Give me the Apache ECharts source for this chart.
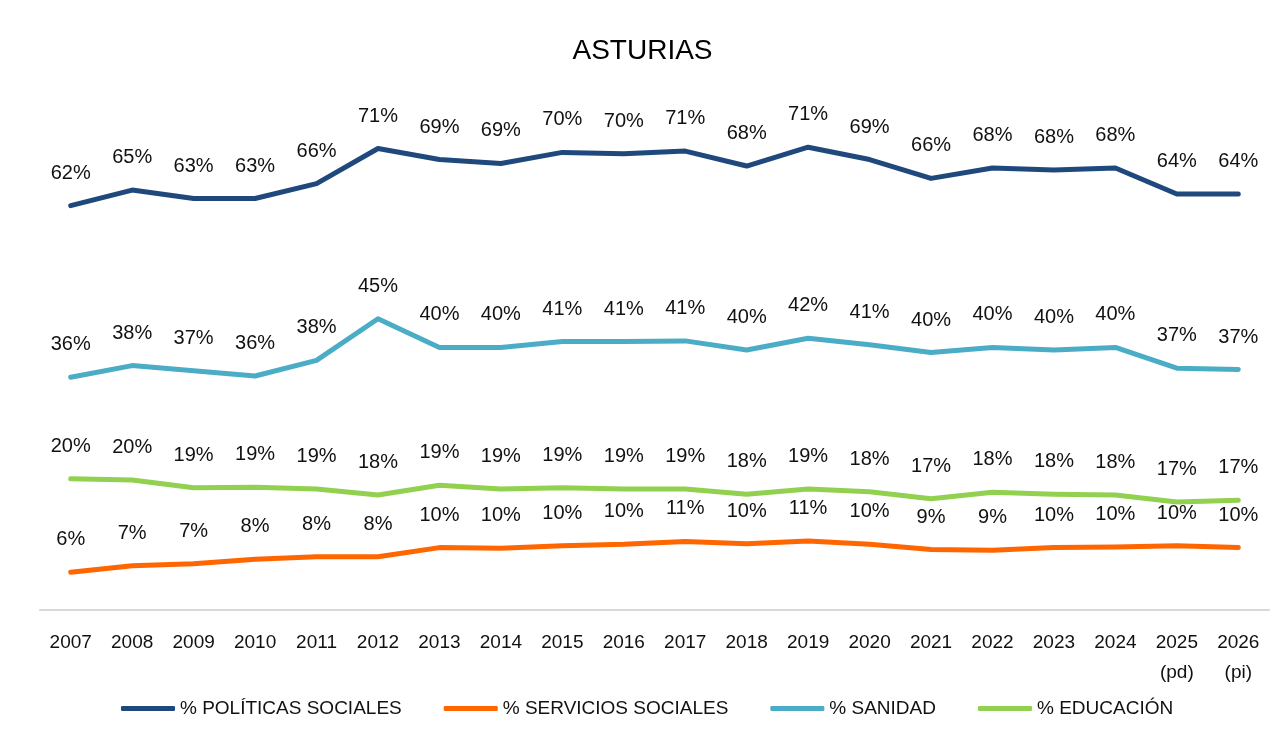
<!DOCTYPE html>
<html lang="es">
<head>
	<meta charset="utf-8" />
	<title>ASTURIAS</title>
	<style>
		html, body { margin: 0; padding: 0; background: #fff; }
		#chart { width: 1285px; height: 733px; }
	</style>
</head>
<body>
	<div id="chart"></div>
	<script type="text/javascript" src="https://cdn.jsdelivr.net/npm/echarts@6/dist/echarts.min.js"></script>
	<script type="text/javascript">
		// años (2025 prorrogado, 2026 inicial)
		const years = ["2007", "2008", "2009", "2010", "2011", "2012", "2013", "2014", "2015", "2016",
			"2017", "2018", "2019", "2020", "2021", "2022", "2023", "2024", "2025\n(pd)", "2026\n(pi)"];

		// % sobre el gasto total
		const politicasSociales = [62.2, 64.6, 63.3, 63.3, 65.6, 71.0, 69.3, 68.7, 70.4, 70.2,
			70.6, 68.3, 71.2, 69.3, 66.4, 68.0, 67.7, 68.0, 64.0, 64.0];
		const serviciosSociales = [5.8, 6.8, 7.1, 7.8, 8.2, 8.2, 9.6, 9.5, 9.9, 10.1,
			10.55, 10.2, 10.6, 10.1, 9.3, 9.2, 9.6, 9.7, 9.9, 9.6];
		const sanidad = [35.8, 37.6, 36.8, 36.0, 38.4, 44.8, 40.4, 40.4, 41.3, 41.3,
			41.4, 40.0, 41.8, 40.8, 39.6, 40.4, 40.0, 40.4, 37.2, 37.0];
		const educacion = [20.2, 20.0, 18.8, 18.9, 18.6, 17.7, 19.2, 18.6, 18.8, 18.6,
			18.6, 17.8, 18.6, 18.2, 17.1, 18.1, 17.8, 17.7, 16.6, 16.9];

		const font = "'Liberation Sans', Arial, sans-serif";

		function lineSerie(name, data, color) {
			return {
				name: name,
				type: "line",
				data: data,
				// símbolo mínimo para que se dibujen las etiquetas
				symbol: "circle",
				symbolSize: 1,
				showSymbol: true,
				lineStyle: { width: 5, color: color, cap: "round", join: "round" },
				itemStyle: { color: color },
				label: {
					show: true,
					position: "top",
					distance: 22,
					fontFamily: font,
					fontSize: 20,
					color: "#111",
					formatter: function (p) {
						return Math.round(p.value) + "%";
					}
				},
				emphasis: { disabled: true }
			};
		}

		const chart = echarts.init(document.getElementById("chart"));
		chart.setOption({
			animation: false,
			backgroundColor: "#fff",
			title: {
				text: "ASTURIAS",
				left: "center",
				top: 32,
				textStyle: { fontFamily: font, fontSize: 28, fontWeight: "normal", color: "#000" }
			},
			legend: {
				bottom: 10,
				left: 116,
				itemWidth: 54,
				itemHeight: 5,
				itemGap: 42,
				icon: "roundRect",
				textStyle: { fontFamily: font, fontSize: 19, color: "#111" },
				data: ["% POLÍTICAS SOCIALES", "% SERVICIOS SOCIALES", "% SANIDAD", "% EDUCACIÓN"]
			},
			grid: {
				left: 40,
				right: 16,
				top: 90,
				bottom: 123,
				containLabel: false
			},
			xAxis: {
				type: "category",
				data: years,
				boundaryGap: true,
				axisLine: { lineStyle: { color: "#d9d9d9", width: 2 } },
				axisTick: { show: false },
				axisLabel: {
					interval: 0,
					margin: 18,
					fontFamily: font,
					fontSize: 19,
					lineHeight: 30,
					color: "#111",
					verticalAlign: "top"
				}
			},
			yAxis: {
				type: "value",
				min: 0,
				max: 80,
				show: false,
				splitLine: { show: false }
			},
			series: [
				lineSerie("% POLÍTICAS SOCIALES", politicasSociales, "#1f497d"),
				lineSerie("% SERVICIOS SOCIALES", serviciosSociales, "#ff6600"),
				lineSerie("% SANIDAD", sanidad, "#4bacc6"),
				lineSerie("% EDUCACIÓN", educacion, "#92d050")
			]
		});
	</script>
</body>
</html>
